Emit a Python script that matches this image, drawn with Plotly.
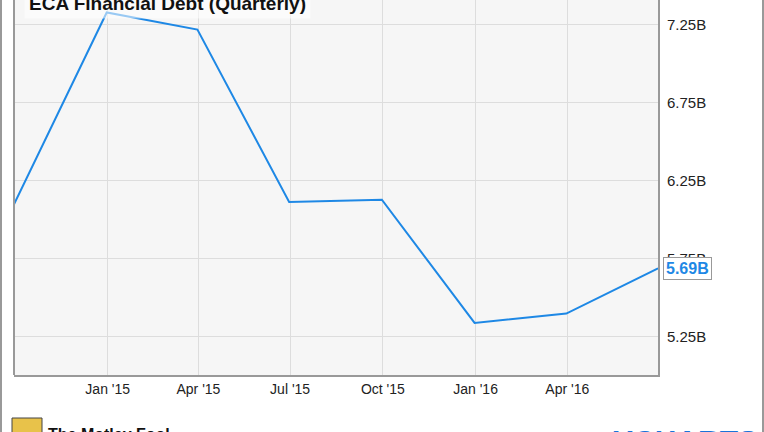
import plotly.graph_objects as go

dates = ["2014-09-30", "2014-12-31", "2015-03-31", "2015-06-30",
         "2015-09-30", "2015-12-31", "2016-03-31", "2016-06-30"]
debt_b = [6.10, 7.33, 7.22, 6.115, 6.13, 5.34, 5.40, 5.69]

tick_dates = ["2015-01-01", "2015-04-01", "2015-07-01", "2015-10-01", "2016-01-01", "2016-04-01"]
tick_text = ["Jan '15", "Apr '15", "Jul '15", "Oct '15", "Jan '16", "Apr '16"]
y_ticks = [5.25, 5.75, 6.25, 6.75, 7.25]
y_text = ["5.25B", "5.75B", "6.25B", "6.75B", "7.25B"]

W, H = 764, 432
L, R, T, B = 14, 106, 0, 57
pw, ph = W - L - R, H - T - B

def px(x):
    return (x - L) / pw

def py(y):
    return (H - B - y) / ph

fig = go.Figure()
fig.add_trace(go.Scatter(x=dates, y=debt_b, mode="lines",
                         line=dict(color="#1e88e5", width=2), hoverinfo="skip"))

fig.update_layout(
    width=W, height=H,
    margin=dict(l=L, r=R, t=T, b=B, autoexpand=False),
    paper_bgcolor="white", plot_bgcolor="#f6f6f6",
    showlegend=False,
    font=dict(family="Liberation Sans, Arial", size=14, color="#333"),
    xaxis=dict(range=["2014-09-30", "2016-06-30"], tickvals=tick_dates, ticktext=tick_text,
               showgrid=True, gridcolor="#dddddd", gridwidth=1, automargin=False,
               showline=True, linecolor="#999999", linewidth=2, ticks="", zeroline=False,
               tickfont=dict(size=14, color="#222")),
    yaxis=dict(range=[5.006, 7.41], tickvals=y_ticks, ticktext=y_text, side="right",
               showgrid=True, gridcolor="#dddddd", gridwidth=1, automargin=False,
               showline=True, linecolor="#999999", linewidth=2, ticks="", zeroline=False,
               ticklabelstandoff=4,
               tickfont=dict(size=15, color="#222")),
)

# left plot border and outer frame
fig.add_shape(type="line", xref="paper", yref="paper", x0=0, x1=0, y0=0, y1=1,
              line=dict(color="#999999", width=2))
fig.add_shape(type="line", xref="paper", yref="paper", x0=px(1), x1=px(1), y0=py(H), y1=py(0),
              line=dict(color="#999999", width=2))
fig.add_shape(type="line", xref="paper", yref="paper", x0=px(763), x1=px(763), y0=py(H), y1=py(0),
              line=dict(color="#999999", width=2))

# title
fig.add_annotation(xref="paper", yref="paper", x=px(24), y=py(3), xanchor="left", yanchor="middle",
                   text="<b>ECA Financial Debt (Quarterly)</b>", showarrow=False,
                   font=dict(size=19, color="#111"), bgcolor="rgba(255,255,255,0.55)",
                   borderpad=4)

# last value label
fig.add_annotation(x=dates[-1], y=debt_b[-1], xanchor="left", yanchor="middle", xshift=5,
                   text="<b>%.2fB</b>" % debt_b[-1], showarrow=False,
                   font=dict(size=16, color="#1e88e5"), bgcolor="white",
                   bordercolor="#999999", borderwidth=1, borderpad=2)

# footer
fig.add_shape(type="rect", xref="paper", yref="paper", x0=px(12), x1=px(42), y0=py(434), y1=py(418),
              line=dict(color="#444", width=1), fillcolor="#e8c24a")
fig.add_annotation(xref="paper", yref="paper", x=px(46), y=py(424), xanchor="left", yanchor="top",
                   text="<b>The Motley Fool</b>", showarrow=False, font=dict(size=16, color="#111"))
fig.add_annotation(xref="paper", yref="paper", x=px(760), y=py(422), xanchor="right", yanchor="top",
                   text="<b>YCHARTS</b>", showarrow=False, font=dict(size=30, color="#1a73d9"))

fig.write_html("out.html", config={"displayModeBar": False},
               post_script="document.body.style.margin='0';")
